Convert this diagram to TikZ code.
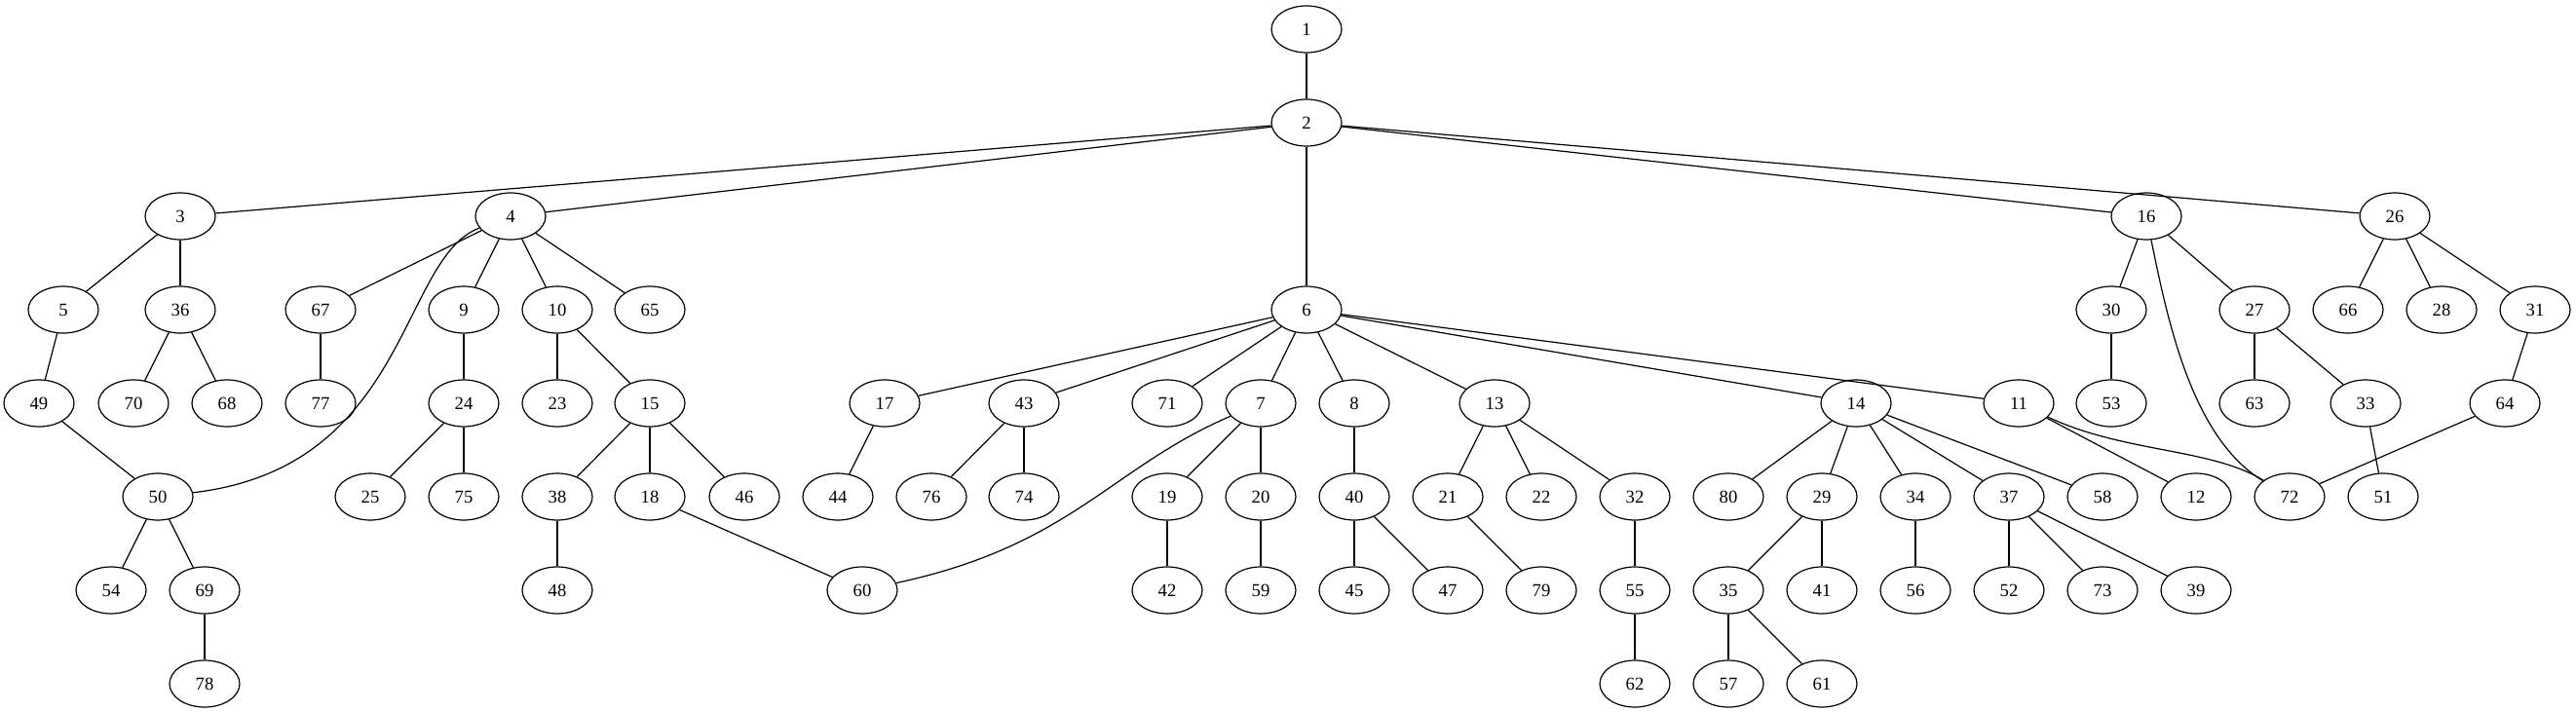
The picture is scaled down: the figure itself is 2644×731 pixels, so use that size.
\documentclass[tikz,border=0pt]{standalone}
\usepackage{fontspec}
\setmainfont{Liberation Serif}
\usetikzlibrary{shapes.geometric}

\tikzset{vertex/.style={
    	ellipse, draw, line width=0.9pt,
    	minimum width=54pt, minimum height=36pt, inner sep=0pt,
    	font=\fontsize{14}{16}\selectfont
  	},
  	link/.style={line width=0.9pt}
}

\begin{document}
\begin{tikzpicture}[x=0.75pt, y=-0.75pt]
		\useasboundingbox (0,0) rectangle (2644,731);
		\foreach \n/\x/\r in {1/1341/0, 2/1341/1,
			3/185/2, 4/524/2, 16/2203/2, 26/2458/2,
			5/65/3, 36/185/3, 67/329/3, 9/476/3, 10/572/3, 65/667/3, 6/1341/3, 30/2167/3, 27/2314/3, 66/2410/3, 28/2506/3, 31/2602/3,
			49/40/4, 70/137/4, 68/233/4, 77/329/4, 24/476/4, 23/572/4, 15/667/4, 17/908/4, 43/1051/4, 71/1198/4, 7/1294/4, 8/1390/4, 13/1534/4, 14/1905/4, 11/2072/4, 53/2167/4, 63/2314/4, 33/2428/4, 64/2571/4,
			50/162/5, 25/380/5, 75/476/5, 38/572/5, 18/667/5, 46/764/5, 44/860/5, 76/956/5, 74/1051/5, 19/1198/5, 20/1294/5, 40/1390/5, 21/1486/5, 22/1582/5, 32/1678/5, 80/1774/5, 29/1870/5, 34/1966/5, 37/2062/5, 58/2158/5, 12/2254/5, 72/2350/5, 51/2446/5,
			54/114/6, 69/210/6, 48/572/6, 60/885/6, 42/1198/6, 59/1294/6, 45/1390/6, 47/1486/6, 79/1582/6, 55/1678/6, 35/1774/6, 41/1870/6, 56/1966/6, 52/2062/6, 73/2158/6, 39/2254/6,
			78/210/7, 62/1678/7, 57/1774/7, 61/1870/7}
			\node [vertex] (n\n) at (\x, {30+96*\r}) {\n};
		% straight edges
		\foreach \a/\b in {1/2, 2/3, 2/4, 2/6, 2/16, 2/26, 3/5, 3/36, 4/67, 4/9, 4/10, 4/65,
			5/49, 36/70, 36/68, 67/77, 9/24, 10/23, 10/15, 49/50, 24/25, 24/75,
			15/38, 15/18, 15/46, 50/54, 50/69, 38/48, 18/60, 69/78,
			6/17, 6/43, 6/71, 6/7, 6/8, 6/13, 6/14, 6/11, 17/44, 43/76, 43/74,
			7/19, 7/20, 19/42, 20/59, 8/40, 40/45, 40/47, 13/21, 13/22, 13/32,
			21/79, 32/55, 55/62, 14/80, 14/29, 14/34, 14/37, 14/58, 29/35, 29/41,
			35/57, 35/61, 34/56, 37/52, 37/73, 37/39, 11/12, 16/30, 16/27, 30/53,
			27/63, 27/33, 33/51, 26/66, 26/28, 26/31, 31/64, 64/72}
			\draw [link] (n\a) -- (n\b);
		\draw [link] (n4) .. controls (410,265) and (420,480) .. (n50);
		\draw [link] (n7) .. controls (1140,480) and (1100,560) .. (n60);
		\draw [link] (n16) .. controls (2225,330) and (2250,450) .. (n72);
		\draw [link] (n11) .. controls (2180,465) and (2270,460) .. (n72);
	\end{tikzpicture}
\end{document}
